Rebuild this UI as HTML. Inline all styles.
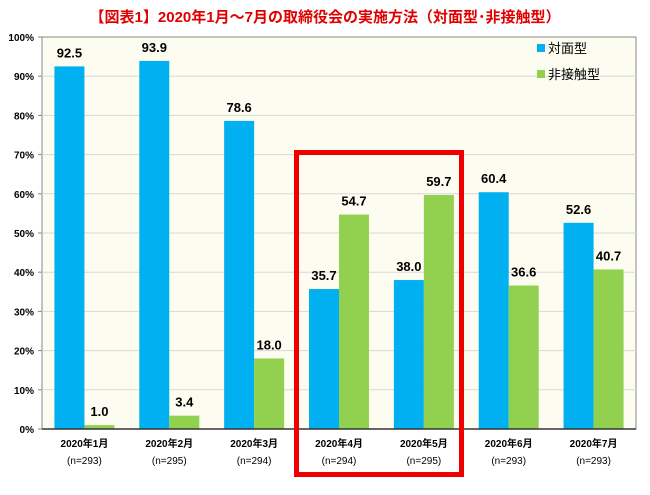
<!DOCTYPE html>
<html><head><meta charset="utf-8"><style>
body{margin:0;background:#fff;width:650px;height:490px;overflow:hidden}
svg text{font-family:"Liberation Sans","Noto Sans CJK JP",sans-serif}
</style></head><body>
<svg id="c" width="650" height="490">
<text x="325" y="22" text-anchor="middle" font-size="15" font-weight="bold" fill="#e00000">【図表1】2020年1月～7月の取締役会の実施方法（対面型･非接触型）</text>
<rect x="42" y="37" width="594" height="392" fill="#fdfcf0" stroke="#888" stroke-width="1"/>
<g id="grid"></g><g id="bars"></g><g id="labels"></g>
<line x1="42" y1="429" x2="636" y2="429" stroke="#333" stroke-width="1.5"/>
<rect x="537" y="44" width="8" height="8" fill="#00b0f0"/>
<text x="548" y="53" font-size="13">対面型</text>
<rect x="537" y="70" width="8" height="8" fill="#92d050"/>
<text x="548" y="79" font-size="13">非接触型</text>
<rect x="296.5" y="152.5" width="165" height="322" fill="none" stroke="#ee0000" stroke-width="5"/>
</svg>
<script>
const categories=["2020年1月","2020年2月","2020年3月","2020年4月","2020年5月","2020年6月","2020年7月"];
const sampleSizes=["(n=293)","(n=295)","(n=294)","(n=294)","(n=295)","(n=293)","(n=293)"];
const faceToFace=[92.5,93.9,78.6,35.7,38.0,60.4,52.6];
const nonContact=[1.0,3.4,18.0,54.7,59.7,36.6,40.7];
const yTicks=[0,10,20,30,40,50,60,70,80,90,100];
const NS="http://www.w3.org/2000/svg";
const L=42,R=636,T=37,B=429;
const y=v=>B-(v/100)*(B-T);
const gw=(R-L)/categories.length;
const gx=i=>L+gw*i+gw/2;
function mk(tag,attrs,parent){const e=document.createElementNS(NS,tag);for(const k in attrs)e.setAttribute(k,attrs[k]);document.getElementById(parent).appendChild(e);return e;}
yTicks.forEach(t=>{
 if(t>0&&t<100){const g=mk('line',{x1:L,x2:R,y1:y(t),y2:y(t),stroke:'#d8d8d8','stroke-width':1},'grid');
 
 }
 const tk=mk('line',{x1:L-4,x2:L,y1:y(t),y2:y(t),stroke:'#888'},'grid');
 
 
 const lb=mk('text',{x:L-8,y:y(t)+4,'text-anchor':'end','font-size':10,'font-weight':'bold'},'labels');
 lb.textContent=t+'%';
 
 
});
const bw=30;
categories.forEach((c,i)=>{
 const cx=gx(i);
 const b1=mk('rect',{x:cx-bw,y:y(faceToFace[i]),width:bw,height:B-y(faceToFace[i]),fill:'#00b0f0'},'bars');
 
 
 const b2=mk('rect',{x:cx,y:y(nonContact[i]),width:bw,height:B-y(nonContact[i]),fill:'#92d050'},'bars');
 
 
 const v1=mk('text',{x:cx-bw/2,y:y(faceToFace[i])-9,'text-anchor':'middle','font-size':13,'font-weight':'bold'},'labels');
 v1.textContent=faceToFace[i].toFixed(1);
 
 
 const v2=mk('text',{x:cx+bw/2,y:y(nonContact[i])-9,'text-anchor':'middle','font-size':13,'font-weight':'bold'},'labels');
 v2.textContent=nonContact[i].toFixed(1);
 
 
 const c1=mk('text',{x:cx,y:447,'text-anchor':'middle','font-size':10,'font-weight':'bold'},'labels');
 c1.textContent=c;
 
 
 const c2=mk('text',{x:cx,y:464,'text-anchor':'middle','font-size':10},'labels');
 c2.textContent=sampleSizes[i];
 
 
});
</script>
</body></html>
